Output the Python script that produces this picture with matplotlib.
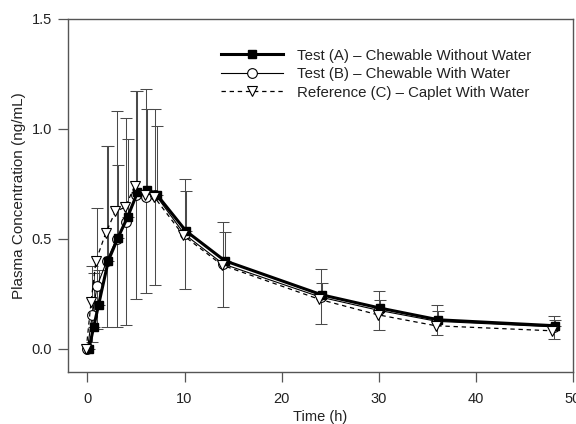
import numpy as np
import matplotlib
matplotlib.use('Agg')
import matplotlib.pyplot as plt

nan = np.nan

# Sampling times (h)
times = [0, 0.5, 1, 2, 3, 4, 5, 6, 7, 10, 14, 24, 30, 36, 48]

# Mean plasma concentrations (ng/mL)
conc_a = [0.0, 0.10, 0.20, 0.40, 0.505, 0.60, 0.71, 0.72, 0.70, 0.535, 0.40, 0.245, 0.185, 0.132, 0.105]
conc_b = [0.0, 0.155, 0.286, 0.40, 0.50, 0.575, 0.70, 0.69, 0.70, 0.52, 0.385, 0.235, 0.175, 0.125, 0.10]
conc_c = [0.0, 0.215, 0.40, 0.525, 0.624, 0.643, 0.74, 0.70, 0.69, 0.515, 0.38, 0.225, 0.155, 0.105, 0.082]

# Error-bar ends (ng/mL)
upper_a = [nan, 0.345, 0.36, 0.92, 0.835, 0.953, 1.17, 1.09, 1.01, 0.718, 0.53, 0.297, 0.222, 0.174, 0.132]
upper_b = [nan, 0.375, 0.64, 0.92, 1.08, 1.05, 1.17, 1.18, 1.09, 0.772, 0.575, 0.363, 0.263, 0.197, 0.147]
lower_b = [nan, 0.03, 0.09, 0.10, 0.10, 0.11, 0.227, 0.253, 0.288, 0.272, 0.188, 0.114, 0.085, 0.062, 0.044]

labels = ["Test (A) \u2013 Chewable Without Water",
          "Test (B) \u2013 Chewable With Water",
          "Reference (C) \u2013 Caplet With Water"]

plt.rcParams['font.family'] = ['Liberation Sans', 'DejaVu Sans']
plt.rcParams['font.size'] = 10

fig = plt.figure(figsize=(5.76, 4.24), dpi=100)
ax = fig.add_axes([68/576, 1 - 372/424, (573 - 68)/576, (372 - 18.5)/424])

t = np.array(times, dtype=float)
a = np.array(conc_a); b = np.array(conc_b); c = np.array(conc_c)
ua = np.array(upper_a); ub = np.array(upper_b); lb = np.array(lower_b)

dodge_a, dodge_b, dodge_c = 0.15, 0.0, -0.12
ecol = '#4a4a4a'

# error bars
ax.errorbar(t + dodge_b, b, yerr=[b - lb, ub - b], fmt='none', ecolor=ecol,
            elinewidth=0.75, capsize=4.5, capthick=0.75, zorder=1)
ax.errorbar(t + dodge_a, a, yerr=[np.zeros_like(a), ua - a], fmt='none', ecolor=ecol,
            elinewidth=0.75, capsize=4.5, capthick=0.75, zorder=1)

# series
ax.plot(t + dodge_b, b, color='black', lw=0.8, marker='o', ms=7,
        mfc='white', mec='black', mew=0.8, label=labels[1], zorder=3)
ax.plot(t + dodge_a, a, color='black', lw=2.2, marker='s', ms=6,
        mfc='black', mec='black', label=labels[0], zorder=4)
ln_c, = ax.plot(t + dodge_c, c, color='black', lw=0.9, marker='v', ms=7.5,
                mfc='white', mec='black', mew=0.8, label=labels[2], zorder=5)
ln_c.set_dashes((3.5, 3))

ax.set_xlim(-2, 50)
ax.set_ylim(-0.105, 1.5)
ax.set_xticks([0, 10, 20, 30, 40, 50])
ax.set_yticks([0.0, 0.5, 1.0, 1.5])
ax.set_yticklabels(['0.0', '0.5', '1.0', '1.5'])

for s in ax.spines.values():
    s.set_color('#555555')
    s.set_linewidth(1.0)
ax.tick_params(axis='both', direction='out', length=7.5, width=0.9, color='#555555',
               labelsize=10.5, labelcolor='#222222')
ax.tick_params(axis='x', pad=7)
ax.tick_params(axis='y', pad=4)

ax.set_xlabel('Time (h)', fontsize=10.5, color='#222222', labelpad=3)
ax.set_ylabel('Plasma Concentration (ng/mL)', fontsize=11, color='#222222', labelpad=4)

handles, labs = ax.get_legend_handles_labels()
order = [labs.index(l) for l in labels]
leg = ax.legend([handles[i] for i in order], [labs[i] for i in order],
                loc='upper left', bbox_to_anchor=(0.303, 0.915), frameon=False,
                borderpad=0, borderaxespad=0, handlelength=4.15, handletextpad=0.93,
                labelspacing=0.3, fontsize=10.8)
for txt in leg.get_texts():
    txt.set_color('#222222')

fig.savefig('out.png', dpi=100)
